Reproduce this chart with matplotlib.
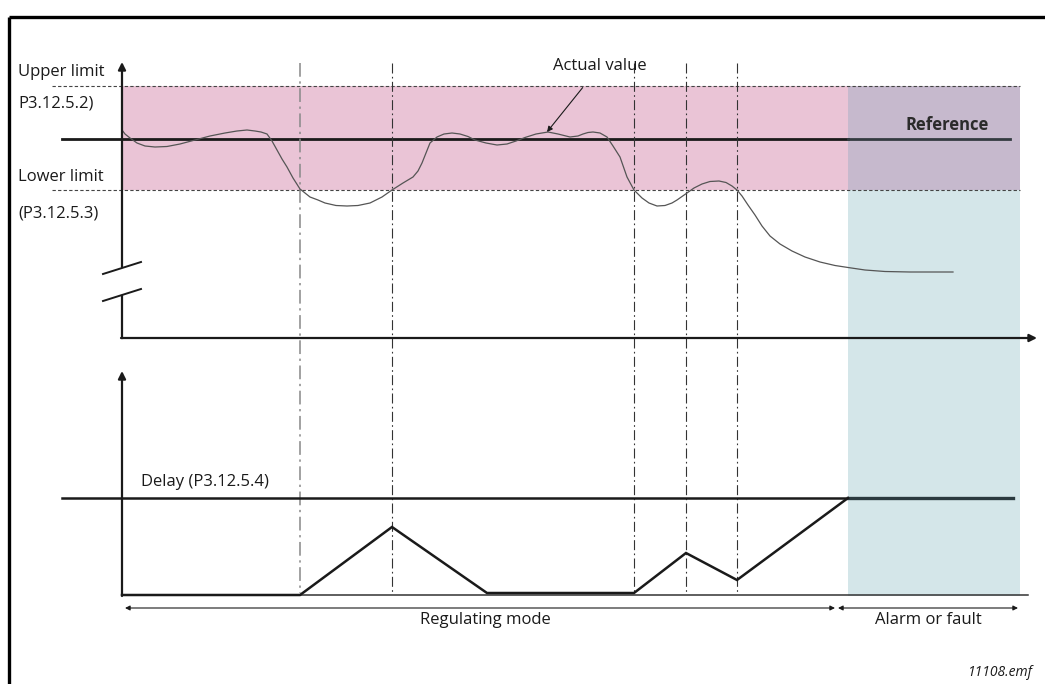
#!/usr/bin/env python3

"""supervision diagram: actual value vs limits and delay counter"""

import matplotlib
matplotlib.use('Agg')
import matplotlib.pyplot as plt
from matplotlib.patches import Rectangle

# picture units (pixels of the original drawing, y grows downwards)
W, H = 1045, 684

# levels of the upper graph
upper_limit = 86
reference = 139
lower_limit = 190
top_axis_y = 338
axis_x = 122
alarm_x = 848
zone_right = 1020

# moments where the actual value crosses a limit
event_x = [300, 392, 634, 686, 737]

# actual value curve
actual_x = [122, 125, 130, 137, 145, 155, 167, 180, 195, 210, 225, 237, 247,
            255, 261, 267, 272, 277, 282, 287, 293, 300, 310, 318, 325, 336,
            347, 358, 370, 382, 392, 403, 413, 418, 422, 426, 430, 437, 444,
            452, 460, 468, 475, 486, 497, 507, 516, 525, 536, 548, 558, 570,
            578, 583, 588, 593, 600, 607, 613, 620, 627, 634, 642, 649, 657,
            665, 672, 677, 687, 694, 702, 710, 719, 726, 732, 737, 742, 748,
            755, 762, 770, 780, 792, 805, 820, 835, 848, 865, 885, 910, 953]
actual_y = [130, 134, 138, 143, 146, 147, 146.5, 144, 140, 136, 133, 131, 130,
            131, 132, 134, 141, 150, 159, 167, 178, 189, 197, 200, 203, 205.5,
            206, 205.5, 203, 197, 190, 183, 177, 171, 163, 153, 143, 137, 134,
            133, 134, 136.5, 140, 143, 145, 144, 141, 137.5, 134, 132, 134, 137,
            136, 134, 132.5, 132, 133, 137, 146, 157, 177, 190, 198, 203, 206,
            205.5, 203, 200, 193, 188, 184, 181.5, 181, 182.5, 186, 190, 196,
            205, 215, 226, 236, 244, 251, 257, 262, 265.5, 267.5, 270, 271.5,
            272, 272]

# lower graph: delay counter
delay_level = 498
base_y = 595
delay_x = [122, 300, 392, 487, 634, 686, 737, 848]
delay_y = [595, 595, 527, 593, 593, 553, 580, 498]

fig = plt.figure(figsize=(W / 100, H / 100), dpi=100)
ax = fig.add_axes([0, 0, 1, 1])
ax.set_xlim(0, W)
ax.set_ylim(H, 0)
ax.axis('off')

font = ['Open Sans', 'DejaVu Sans']
fs = 12
ink = '#1a1a1a'

# frame of the page
ax.plot([9, W], [17, 17], color='black', lw=2.4, solid_capstyle='butt')
ax.plot([9, 9], [17, H], color='black', lw=2.4, solid_capstyle='butt')

# coloured zones
ax.add_patch(Rectangle((axis_x, upper_limit), zone_right - axis_x,
                       lower_limit - upper_limit, color='#eac4d6', lw=0))
ax.add_patch(Rectangle((alarm_x, upper_limit), zone_right - alarm_x,
                       lower_limit - upper_limit, color='#c6b9cd', lw=0))
ax.add_patch(Rectangle((alarm_x, lower_limit), zone_right - alarm_x,
                       596 - lower_limit, color='#d4e6e9', lw=0))

# limit lines
for yy in (upper_limit, lower_limit):
    ax.plot([52, zone_right], [yy, yy], color='#444444', lw=0.8,
            ls=(0, (3, 2)))

# reference line
ax.plot([62, alarm_x], [reference, reference], color=ink, lw=2)
ax.plot([alarm_x, 1010], [reference, reference], color='#333b40', lw=2)

# event lines
for i, ex in enumerate(event_x):
    ax.plot([ex, ex], [63, 593], color='#888888' if i == 0 else '#333333',
            lw=1.1 if i == 0 else 0.8, ls=(0, (9, 3, 1.5, 3)))

# actual value
ax.plot(actual_x, actual_y, color='#555555', lw=0.9, solid_joinstyle='round')

# upper graph axes with the break
arrow = dict(arrowstyle='-|>', color=ink, lw=1.6, mutation_scale=11,
             shrinkA=0, shrinkB=0)
ax.annotate('', xy=(axis_x, 62), xytext=(axis_x, 267), arrowprops=arrow)
ax.plot([axis_x, axis_x], [296, top_axis_y], color=ink, lw=1.6)
ax.plot([103, 141], [274, 262], color=ink, lw=1.4)
ax.plot([103, 141], [301, 289], color=ink, lw=1.4)
ax.annotate('', xy=(1037, top_axis_y), xytext=(axis_x - 1, top_axis_y),
            arrowprops=arrow)

# lower graph
ax.annotate('', xy=(axis_x, 371), xytext=(axis_x, base_y + 1), arrowprops=arrow)
ax.plot([axis_x, 1028], [base_y, base_y], color='#333333', lw=1.1)
ax.plot([62, alarm_x], [delay_level, delay_level], color=ink, lw=1.8)
ax.plot([alarm_x, 1013], [delay_level, delay_level], color='#2b3a3f', lw=2.4)
ax.plot(delay_x, delay_y, color=ink, lw=1.8, solid_joinstyle='miter')

# mode arrows
thin = dict(arrowstyle='<|-|>', color=ink, lw=0.8, mutation_scale=7,
            shrinkA=0, shrinkB=0)
ax.annotate('', xy=(125, 608), xytext=(835, 608), arrowprops=thin)
ax.annotate('', xy=(838, 608), xytext=(1018, 608), arrowprops=thin)

# actual value label
ax.annotate('Actual value', xy=(547, 132), xytext=(600, 66),
            ha='center', va='center', fontsize=fs, family=font, color=ink,
            arrowprops=dict(arrowstyle='-|>', color=ink, lw=0.8,
                            mutation_scale=8, shrinkA=10, shrinkB=0))

# texts
ax.text(18, 72, 'Upper limit', fontsize=fs, family=font, color=ink, va='center')
ax.text(18, 103, 'P3.12.5.2)', fontsize=fs, family=font, color=ink, va='center')
ax.text(18, 177, 'Lower limit', fontsize=fs, family=font, color=ink, va='center')
ax.text(18, 214, '(P3.12.5.3)', fontsize=fs, family=font, color=ink, va='center')
ax.text(989, 125, 'Reference', fontsize=fs, family=font, color='#2b2b2b',
        weight='bold', ha='right', va='center')
ax.text(141, 482, 'Delay (P3.12.5.4)', fontsize=fs, family=font, color=ink,
        va='center')
ax.text(485, 620, 'Regulating mode', fontsize=fs, family=font, color=ink,
        ha='center', va='center')
ax.text(928, 620, 'Alarm or fault', fontsize=fs, family=font, color=ink,
        ha='center', va='center')
ax.text(1033, 673, '11108.emf', fontsize=10, family=font, color=ink,
        style='italic', ha='right', va='center')

fig.savefig('out.png', dpi=100)
